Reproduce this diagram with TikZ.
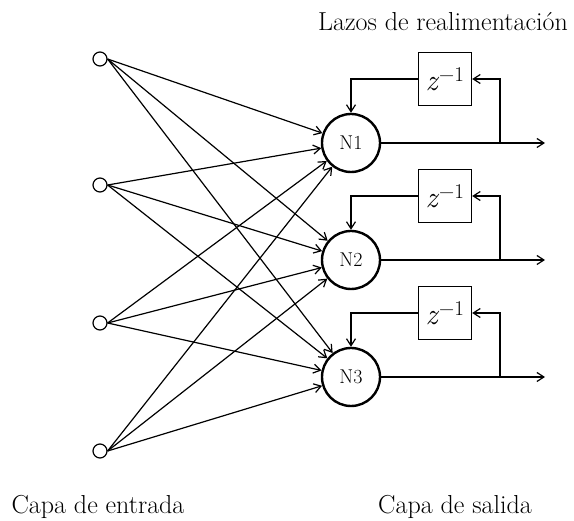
\documentclass[tikz,border=0pt]{standalone}
\usepackage{fontspec}
\setmainfont{Latin Modern Roman}
\usetikzlibrary{arrows.meta}
\begin{document}
\begin{tikzpicture}[x=1pt,y=-1pt,
  inp/.style={circle,draw,line width=1.2pt,minimum size=14pt,inner sep=0pt},
  neuron/.style={circle,draw,line width=2.4pt,minimum size=58pt,inner sep=0pt,font=\fontsize{20}{23}\selectfont},
  delay/.style={rectangle,draw,line width=1.4pt,minimum size=53pt,inner sep=0pt,font=\fontsize{30}{34}\selectfont},
  conn/.style={line width=1.2pt,-{Straight Barb[length=7pt,width=9pt,line width=1.2pt]}},
  lbl/.style={font=\fontsize{26}{30}\selectfont,anchor=base,inner sep=0pt}]
\useasboundingbox (0,0) rectangle (574,521);

% input layer
\node[inp] (i1) at (100,59) {};
\node[inp] (i2) at (100,185) {};
\node[inp] (i3) at (100,323) {};
\node[inp] (i4) at (100,451) {};

% output neurons
\node[neuron] (n1) at (351,143) {N1};
\node[neuron] (n2) at (351,260) {N2};
\node[neuron] (n3) at (351,377) {N3};

% delay boxes
\node[delay] (d1) at (445,79) {\textit{z}\textsuperscript{−1}};
\node[delay] (d2) at (445,196) {\textit{z}\textsuperscript{−1}};
\node[delay] (d3) at (445,313) {\textit{z}\textsuperscript{−1}};

% output ends and taps
\coordinate (o1) at (545,143);
\coordinate (o2) at (545,260);
\coordinate (o3) at (545,377);
\coordinate (t1) at (500,143);
\coordinate (t2) at (500,260);
\coordinate (t3) at (500,377);

% full connections
\foreach \i in {1,2,3,4}{
  \foreach \n in {1,2,3}{
    \draw[conn] (i\i.east) -- (n\n);
  }
}

% outputs and feedback loops
\foreach \n in {1,2,3}{
  \draw[conn] (n\n) -- (o\n);
  \draw[conn] (t\n) |- (d\n.east);
  \draw[conn] (d\n.west) -| (n\n.north);
}

% labels
\node[lbl] (l1) at (443,31) {Lazos de realimentación};
\node[lbl] (l2) at (98,514) {Capa de entrada};
\node[lbl] (l3) at (455,514) {Capa de salida};
\end{tikzpicture}
\end{document}
